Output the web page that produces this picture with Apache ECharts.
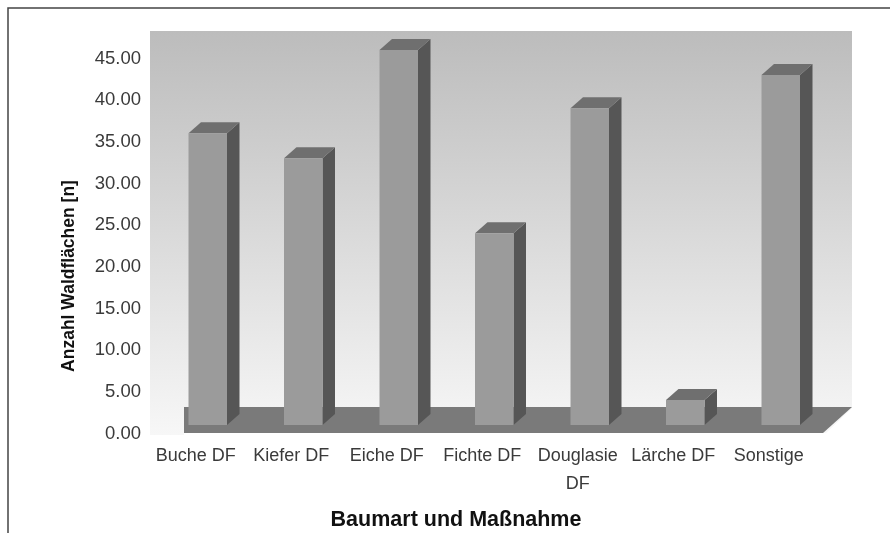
<!DOCTYPE html>
<html>
<head>
<meta charset="utf-8">
<style>
    html, body { margin: 0; padding: 0; background: #fff; }
    #chart { width: 890px; height: 533px; }
</style>
<script src="https://cdn.jsdelivr.net/npm/echarts@6/dist/echarts.min.js"></script>
</head>
<body>
<div id="chart"></div>
<script>
const categories = ['Buche DF', 'Kiefer DF', 'Eiche DF', 'Fichte DF', 'Douglasie\nDF', 'Lärche DF', 'Sonstige'];
const values = [35, 32, 45, 23, 38, 3, 42];
const yTicks = { min: 0, max: 45, interval: 5 };

const barWidth = 38.5;
const depthX = 12.5;
const depthY = 11;
// the 3d plot sits a little right of and above the axes
const shiftX = 12;
const shiftY = 8.6;

function renderBar(params, api) {
    const top = api.coord([api.value(0), api.value(1)]);
    const base = api.coord([api.value(0), 0]);
    const x0 = top[0] + shiftX - barWidth / 2;
    const x1 = x0 + barWidth;
    const y0 = top[1] - shiftY;
    const y1 = base[1] - shiftY;
    return {
        type: 'group',
        children: [
            {
                type: 'polygon',
                shape: { points: [[x1, y0], [x1 + depthX, y0 - depthY], [x1 + depthX, y1 - depthY], [x1, y1]] },
                style: { fill: '#565656' },
            },
            {
                type: 'polygon',
                shape: { points: [[x0, y0], [x0 + depthX, y0 - depthY], [x1 + depthX, y0 - depthY], [x1, y0]] },
                style: { fill: '#6f6f6f' },
            },
            {
                type: 'rect',
                shape: { x: x0, y: y0, width: barWidth, height: y1 - y0 },
                style: { fill: '#9b9b9b' },
            },
        ],
    };
}

const myChart = echarts.init(document.getElementById('chart'), null, { renderer: 'canvas' });
myChart.setOption({
    animation: false,
    backgroundColor: '#fff',
    textStyle: { fontFamily: 'Liberation Sans' },
    grid: { left: 148, right: 73.5, top: 58.6, bottom: 99.4 },
    xAxis: {
        type: 'category',
        data: categories,
        axisLine: { show: false },
        axisTick: { show: false },
        axisLabel: {
            interval: 0,
            margin: 8,
            fontSize: 18,
            lineHeight: 28,
            color: '#3a3a3a',
            fontFamily: 'Liberation Sans',
        },
    },
    yAxis: {
        type: 'value',
        min: yTicks.min,
        max: yTicks.max,
        interval: yTicks.interval,
        axisLine: { show: false },
        axisTick: { show: false },
        splitLine: { show: false },
        axisLabel: {
            margin: 7,
            fontSize: 18.5,
            color: '#3a3a3a',
            fontFamily: 'Liberation Sans',
            formatter: (value) => value.toFixed(2),
        },
    },
    graphic: [
        // frame
        { type: 'polyline', z: 0, shape: { points: [[8, 533], [8, 8], [890, 8]] }, style: { stroke: '#444', lineWidth: 1.5, fill: null } },
        // back wall
        {
            type: 'rect', z: 0,
            shape: { x: 150, y: 31, width: 702, height: 404 },
            style: {
                fill: new echarts.graphic.LinearGradient(0, 0, 0, 1, [
                    { offset: 0, color: '#bcbcbc' },
                    { offset: 1, color: '#f7f7f7' },
                ]),
            },
        },
        // white cut bottom right
        { type: 'polygon', z: 1, shape: { points: [[852, 408], [852, 436], [823, 436]] }, style: { fill: '#fff' } },
        { type: 'rect', z: 1, shape: { x: 184, y: 433, width: 668, height: 3 }, style: { fill: '#fff' } },
        // floor
        { type: 'polygon', z: 1, shape: { points: [[184, 407], [852, 407], [823, 433], [184, 433]] }, style: { fill: '#7a7a7a' } },
        {
            type: 'text', z: 3, x: 68.5, y: 276, rotation: Math.PI / 2, scaleY: 1.08,
            style: { text: 'Anzahl Waldflächen [n]', font: 'bold 17.5px "Liberation Sans"', fill: '#111', align: 'center', verticalAlign: 'middle' },
        },
        {
            type: 'text', z: 3, x: 456, y: 520.5,
            style: { text: 'Baumart und Maßnahme', font: 'bold 21.5px "Liberation Sans"', fill: '#111', align: 'center', verticalAlign: 'middle' },
        },
    ],
    series: [
        {
            type: 'custom',
            renderItem: renderBar,
            encode: { x: 0, y: 1 },
            data: values.map((value, index) => [index, value]),
        },
    ],
});
</script>
</body>
</html>
